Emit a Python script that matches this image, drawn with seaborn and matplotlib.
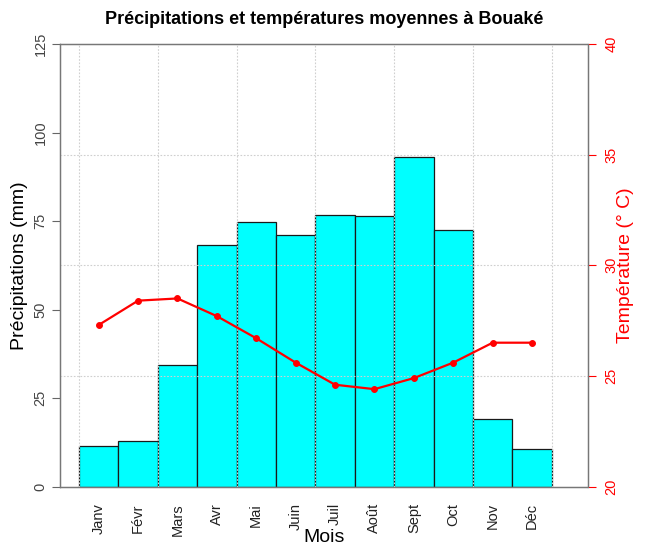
import numpy as np
import pandas as pd
import matplotlib
matplotlib.use("Agg")
import matplotlib.pyplot as plt
import seaborn as sns

# Données climatiques moyennes de Bouaké
mois = ["Janv", "Févr", "Mars", "Avr", "Mai", "Juin",
        "Juil", "Août", "Sept", "Oct", "Nov", "Déc"]
precip = [11.4, 12.8, 34.2, 68.1, 74.6, 71.0, 76.6, 76.3, 93.0, 72.4, 19.2, 10.7]
temp = [27.3, 28.4, 28.5, 27.7, 26.7, 25.6, 24.6, 24.4, 24.9, 25.6, 26.5, 26.5]

precip_ticks = [0, 25, 50, 75, 100, 125]
temp_ticks = [20, 25, 30, 35, 40]

sns.set_style("white")
plt.rcParams["font.family"] = ["Liberation Sans", "DejaVu Sans"]
plt.rcParams["text.color"] = "black"

df = pd.DataFrame({"Mois": mois, "Precip": precip, "Temp": temp})

fig = plt.figure(figsize=(6.49, 5.48), dpi=100)
ax = fig.add_axes([0.0925, 0.1122, 0.8135, 0.8075])

sns.barplot(data=df, x="Mois", y="Precip", ax=ax, color="#00FFFF",
            saturation=1, width=1, edgecolor="#1a1a1a", linewidth=0.9)
ax.set_xlim(-0.98, 12.42)
ax.set_ylim(0, 125)
ax.set_yticks(precip_ticks)
ax.set_yticklabels(precip_ticks, rotation=90, va="center", color="#444444", fontsize=10.5)
ax.tick_params(axis="y", direction="out", length=6, color="#666666", pad=3, left=True)
ax.tick_params(axis="x", length=0, pad=12)
ax.set_xticks(range(len(mois)))
ax.set_xticklabels(mois, rotation=90, fontsize=10.5, color="#222222")
ax.set_xlabel("Mois", fontsize=14, labelpad=-5, color="black")
ax.set_ylabel("Précipitations (mm)", fontsize=14, labelpad=4, color="black")

ax2 = ax.twinx()
sns.lineplot(x=np.arange(len(mois)), y=temp, ax=ax2, color="red",
             linewidth=1.6, marker="o", markersize=4.2, markeredgecolor="red")
ax2.set_ylim(20, 40)
ax2.set_yticks(temp_ticks)
ax2.set_yticklabels(temp_ticks, rotation=90, va="center", color="red", fontsize=10.5)
ax2.tick_params(axis="y", direction="out", length=6, color="red", pad=6, right=True)
ax2.set_ylabel("Température (° C)", color="red", fontsize=14, labelpad=-1)

# grille pointillée par-dessus les barres
for t in temp_ticks[1:-1]:
    ax2.axhline(t, color="#cfcfcf", linestyle=(0, (1.5, 1.5)), linewidth=0.8, zorder=0.5)
for xg in np.arange(-0.5, len(mois) + 0.5, 2):
    ax2.axvline(xg, color="#cfcfcf", linestyle=(0, (1.5, 1.5)), linewidth=0.8, zorder=0.5)
for a in (ax, ax2):
    for s in ("top", "bottom"):
        a.spines[s].set_linestyle((0, (1.5, 1)))
        a.spines[s].set_color("#777777")
        a.spines[s].set_linewidth(0.9)
    for s in ("left", "right"):
        a.spines[s].set_color("#777777")
        a.spines[s].set_linewidth(0.9)

fig.suptitle("Précipitations et températures moyennes à Bouaké",
             fontsize=13, fontweight="bold", y=0.98, color="black")

fig.savefig("out.png", dpi=100)
